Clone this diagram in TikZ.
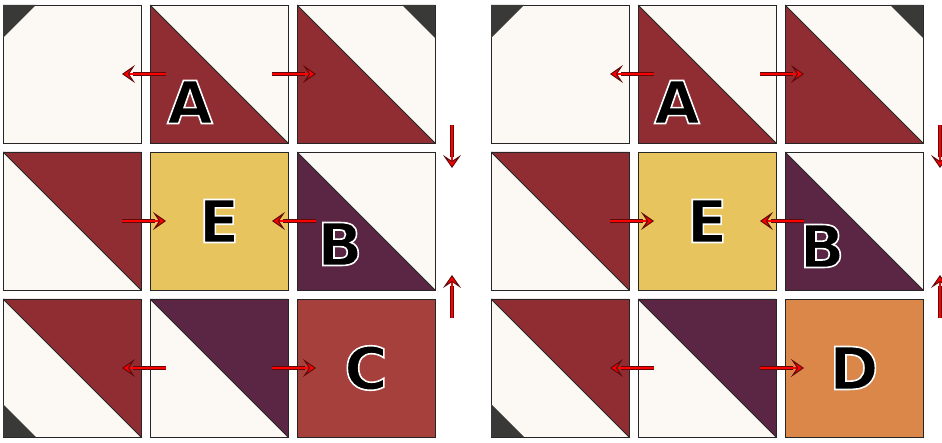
\documentclass[tikz,border=0pt]{standalone}
\usepackage{fontspec}
\usepackage{xcolor}
\usepackage{tikz}
\usetikzlibrary{positioning, arrows.meta}

\newfontfamily\letterfont{DejaVu Sans}
% black letters with a white rim
\newcommand\rimmed[1]{\special{pdf:literal direct 2 Tr 1 1 1 RG 1.6 w}#1\special{pdf:literal direct 0 Tr}}

\definecolor{cream}{HTML}{FCF9F4}
\definecolor{wine}{HTML}{8F2D33}
\definecolor{plum}{HTML}{5B2644}
\definecolor{mustard}{HTML}{E7C45D}
\definecolor{brick}{HTML}{A6403C}
\definecolor{amber}{HTML}{DB874A}
\definecolor{cornergray}{HTML}{393937}
\definecolor{arrowdark}{HTML}{5E0A0A}

\tikzset{
    tile/.style={draw=black!85, line width=0.8pt, fill=cream, minimum size=138pt,
        inner sep=0pt, outer sep=0pt, font=\letterfont\bfseries\fontsize{59}{59}\selectfont},
    lowleft/.style={path picture={
        \fill[#1] (path picture bounding box.north west) -- (path picture bounding box.south west)
            -- (path picture bounding box.south east) -- cycle;
        \draw[line width=0.8pt] (path picture bounding box.north west) -- (path picture bounding box.south east);}},
    upright/.style={path picture={
        \fill[#1] (path picture bounding box.north west) -- (path picture bounding box.north east)
            -- (path picture bounding box.south east) -- cycle;
        \draw[line width=0.8pt] (path picture bounding box.north west) -- (path picture bounding box.south east);}},
    letter/.style={inner sep=0pt, font=\letterfont\bfseries\fontsize{59}{59}\selectfont},
    movearrow/.style={-{Stealth[length=13pt, width=18pt, inset=6pt, color=arrowdark, fill=red, line width=1pt]},
        red, line width=2pt,
        preaction={draw=arrowdark, line width=4pt, -, shorten >=11pt}},
}

\begin{document}
\begin{tikzpicture}[x=1pt, y=1pt, node distance=9pt]

    \useasboundingbox (0,0) rectangle (942,-443);

    % left grid
    \node[tile] (L1) at (72,-74) {};
    \node[tile, lowleft=wine] (L2) [right=of L1] {};
    \node[tile, lowleft=wine] (L3) [right=of L2] {};
    \node[tile, upright=wine] (L4) [below=of L1] {};
    \node[tile, fill=mustard] (L5) [below=of L2] {\rimmed{E}};
    \node[tile, lowleft=plum] (L6) [below=of L3] {};
    \node[tile, upright=wine] (L7) [below=of L4] {};
    \node[tile, upright=plum] (L8) [below=of L5] {};
    \node[tile, fill=brick] (L9) [below=of L6] {\rimmed{C}};

    \fill[cornergray] (L1.north west) -- ++(33,0) -- ++(-33,-33) -- cycle;
    \fill[cornergray] (L3.north east) -- ++(-33,0) -- ++(33,-33) -- cycle;
    \fill[cornergray] (L7.south west) -- ++(33,0) -- ++(-33,33) -- cycle;

    \node[letter] (A1) at ([shift={(-29,-28)}]L2.center) {\rimmed{A}};
    \node[letter] (B1) at ([shift={(-26,-23)}]L6.center) {\rimmed{B}};

    % right grid
    \node[tile] (R1) at (560,-74) {};
    \node[tile, lowleft=wine] (R2) [right=of R1] {};
    \node[tile, lowleft=wine] (R3) [right=of R2] {};
    \node[tile, upright=wine] (R4) [below=of R1] {};
    \node[tile, fill=mustard] (R5) [below=of R2] {\rimmed{E}};
    \node[tile, lowleft=plum] (R6) [below=of R3] {};
    \node[tile, upright=wine] (R7) [below=of R4] {};
    \node[tile, upright=plum] (R8) [below=of R5] {};
    \node[tile, fill=amber] (R9) [below=of R6] {\rimmed{D}};

    \fill[cornergray] (R1.north west) -- ++(33,0) -- ++(-33,-33) -- cycle;
    \fill[cornergray] (R3.north east) -- ++(-33,0) -- ++(33,-33) -- cycle;
    \fill[cornergray] (R7.south west) -- ++(33,0) -- ++(-33,33) -- cycle;

    \node[letter] (A2) at ([shift={(-30,-28)}]R2.center) {\rimmed{A}};
    \node[letter] (B2) at ([shift={(-32,-25)}]R6.center) {\rimmed{B}};

    % moves, left
    \draw[movearrow] ([xshift=16]L2.west) -- ([xshift=-19]L1.east);
    \draw[movearrow] ([xshift=-16]L2.east) -- ([xshift=19]L3.west);
    \draw[movearrow] ([xshift=-19]L4.east) -- ([xshift=16]L5.west);
    \draw[movearrow] ([xshift=19]L6.west) -- ([xshift=-16]L5.east);
    \draw[movearrow] ([xshift=16]L8.west) -- ([xshift=-19]L7.east);
    \draw[movearrow] ([xshift=-16]L8.east) -- ([xshift=19]L9.west);
    \draw[movearrow] ([shift={(17,18)}]L3.south east) -- ([shift={(17,-16)}]L6.north east);
    \draw[movearrow] ([shift={(17,-19)}]L9.north east) -- ([shift={(17,15)}]L6.south east);

    % moves, right
    \draw[movearrow] ([xshift=16]R2.west) -- ([xshift=-19]R1.east);
    \draw[movearrow] ([xshift=-16]R2.east) -- ([xshift=19]R3.west);
    \draw[movearrow] ([xshift=-19]R4.east) -- ([xshift=16]R5.west);
    \draw[movearrow] ([xshift=19]R6.west) -- ([xshift=-16]R5.east);
    \draw[movearrow] ([xshift=16]R8.west) -- ([xshift=-19]R7.east);
    \draw[movearrow] ([xshift=-16]R8.east) -- ([xshift=19]R9.west);
    \draw[movearrow] ([shift={(17,18)}]R3.south east) -- ([shift={(17,-16)}]R6.north east);
    \draw[movearrow] ([shift={(17,-19)}]R9.north east) -- ([shift={(17,15)}]R6.south east);
\end{tikzpicture}
\end{document}
